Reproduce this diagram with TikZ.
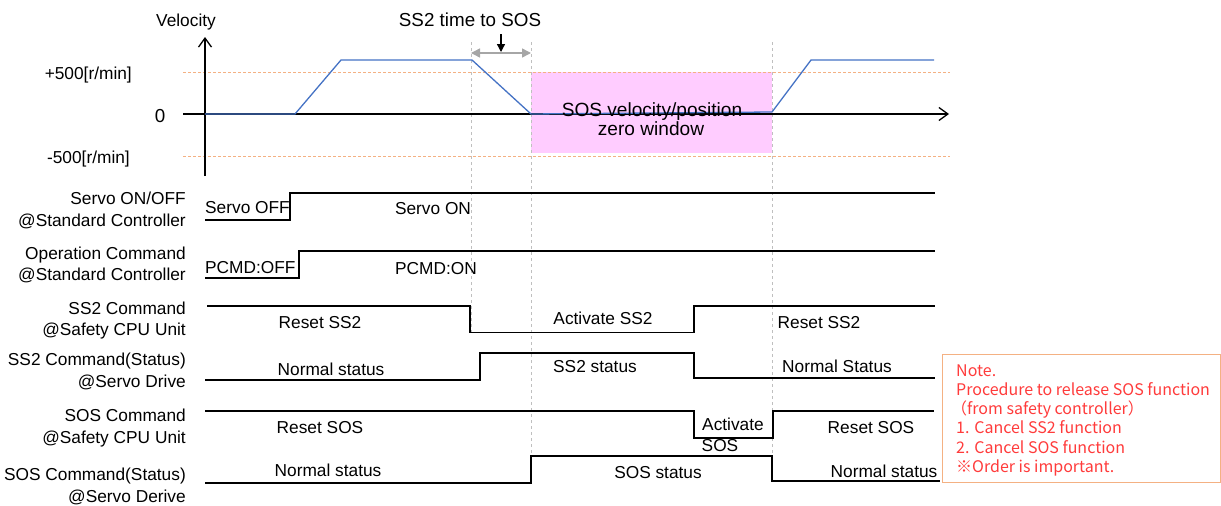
\documentclass[tikz,border=0pt]{standalone}
\usepackage{fontspec}
\setmainfont{Liberation Sans}
\newfontfamily\notefont{Noto Sans CJK JP}
\usetikzlibrary{arrows.meta}
\definecolor{vblue}{HTML}{4472C4}
\definecolor{lorange}{HTML}{F4B183}
\definecolor{pinkz}{HTML}{FFCCFF}
\definecolor{dgrey}{HTML}{BFBFBF}
\definecolor{agrey}{HTML}{A6A6A6}
\definecolor{notered}{HTML}{FF3B3B}
\begin{document}
\begin{tikzpicture}[x=1pt,y=-1pt,
  txt/.style={font=\fontsize{17.3}{21}\selectfont, inner sep=0pt, anchor=base},
  bigtxt/.style={txt, font=\fontsize{18.8}{22}\selectfont},
  rlbl/.style={txt, anchor=base east},
  llbl/.style={txt, anchor=base west},
  notetxt/.style={font=\notefont\fontsize{16}{19}\selectfont, text=notered, inner sep=0pt, anchor=base west},
  sig/.style={line width=1.3pt, black},
  vline/.style={line width=1.3pt, vblue},
  limit/.style={line width=1pt, lorange, dash pattern=on 3pt off 2pt},
  guide/.style={line width=0.8pt, dgrey, dash pattern=on 3pt off 3pt},
  axis/.style={line width=1.3pt, black, -{Straight Barb[length=9pt, width=13pt, line width=1.3pt]}}
]
\useasboundingbox (0,0) rectangle (1221,506);

% SOS zero window
\fill[pinkz] (531,72) rectangle (772,153);

% limit lines
\draw[limit] (183,72.5) -- (950,72.5);
\draw[limit] (183,156) -- (950,156);

% guide lines
\draw[guide] (471,42) -- (471,333);
\draw[guide] (531,42) -- (531,456);
\draw[guide] (772,42) -- (772,456);

% axes
\coordinate (xs) at (183,114);
\coordinate (xe) at (949,114);
\coordinate (ys) at (205,176);
\coordinate (ye) at (205,37);
\draw[axis] (xs) -- (xe);
\draw[axis] (ys) -- (ye);

% velocity profile
\draw[vline, line join=round] (205,114) -- (295,114) -- (341,60) -- (472,60) -- (531,114) -- (772,112) -- (811,60) -- (934,60);

% SS2 time to SOS arrows
\coordinate (ta) at (471,53);
\coordinate (tb) at (531,53);
\coordinate (da) at (501,34);
\coordinate (db) at (501,52);
\draw[line width=1.5pt, agrey, {Triangle[length=9pt,width=9pt]}-{Triangle[length=9pt,width=9pt]}] (ta) -- (tb);
\draw[line width=1.3pt, black, -{Triangle[length=8pt,width=8pt]}] (da) -- (db);

% axis labels
\node[txt] (vel) at (186,27) {Velocity};
\node[bigtxt] (ss2t) at (470,27) {SS2 time to SOS};
\node[rlbl] (p500) at (132,79) {+500[r/min]};
\node[bigtxt] (zero) at (160,122) {0};
\node[rlbl] (m500) at (130,163) {-500[r/min]};
\node[txt, font=\fontsize{19.1}{22}\selectfont] (zw1) at (652,116.5) {SOS velocity/position};
\node[txt, font=\fontsize{19.1}{22}\selectfont] (zw2) at (651,135.5) {zero window};

% row labels
\node[rlbl] (l1a) at (186,204) {Servo ON/OFF};
\node[rlbl] (l1b) at (186,226) {@Standard Controller};
\node[rlbl] (l2a) at (186,259) {Operation Command};
\node[rlbl] (l2b) at (186,280) {@Standard Controller};
\node[rlbl] (l3a) at (186,314) {SS2 Command};
\node[rlbl] (l3b) at (186,335) {@Safety CPU Unit};
\node[rlbl] (l4a) at (186,365) {SS2 Command(Status)};
\node[rlbl] (l4b) at (186,387) {@Servo Drive};
\node[rlbl] (l5a) at (186,421) {SOS Command};
\node[rlbl] (l5b) at (186,443) {@Safety CPU Unit};
\node[rlbl] (l6a) at (186,480) {SOS Command(Status)};
\node[rlbl] (l6b) at (186,502) {@Servo Derive};

% signals
\draw[sig] (205,220) -- (290,220) -- (290,193) -- (935,193);
\draw[sig] (205,278) -- (299,278) -- (299,251) -- (935,251);
\draw[sig] (207,306) -- (470,306) -- (470,332.5) -- (694,332.5) -- (694,306) -- (935,306);
\draw[sig] (205,380) -- (480,380) -- (480,353) -- (694,353) -- (694,378) -- (935,378);
\draw[sig] (205,411) -- (694,411) -- (694,438) -- (773,438) -- (773,411) -- (934,411);
\draw[sig] (205,483) -- (531,483) -- (531,456) -- (772,456) -- (772,481) -- (940,481);

% signal texts
\node[llbl] (s1) at (205,213) {Servo OFF};
\node[txt] (s2) at (433,214) {Servo ON};
\node[llbl] (s3) at (205,273) {PCMD:OFF};
\node[txt] (s4) at (436,274) {PCMD:ON};
\node[txt] (s5) at (320,328) {Reset SS2};
\node[txt] (s6) at (603,324) {Activate SS2};
\node[txt] (s7) at (819,328) {Reset SS2};
\node[txt] (s8) at (331,375) {Normal status};
\node[txt] (s9) at (595,372) {SS2 status};
\node[txt] (s10) at (837,372) {Normal Status};
\node[txt] (s11) at (320,433) {Reset SOS};
\node[txt] (s12) at (733,430) {Activate};
\node[txt] (s13) at (720,451) {SOS};
\node[txt] (s14) at (871,433) {Reset SOS};
\node[txt] (s15) at (328,476) {Normal status};
\node[txt] (s16) at (658,478) {SOS status};
\node[txt] (s17) at (884,477) {Normal status};

% note
\node[draw=lorange, line width=1pt, fill=white, minimum width=278pt, minimum height=128pt, inner sep=0pt] (note) at (1081,418) {};
\node[notetxt] (n1) at (956,376) {Note.};
\node[notetxt] (n2) at (956,395) {Procedure to release SOS function};
\node[notetxt] (n3) at (951,414) {（from safety controller）};
\node[notetxt] (n4) at (956,433) {1. Cancel SS2 function};
\node[notetxt] (n5) at (956,453) {2. Cancel SOS function};
\node[notetxt] (n6) at (956,472) {※Order is important.};
\end{tikzpicture}
\end{document}
